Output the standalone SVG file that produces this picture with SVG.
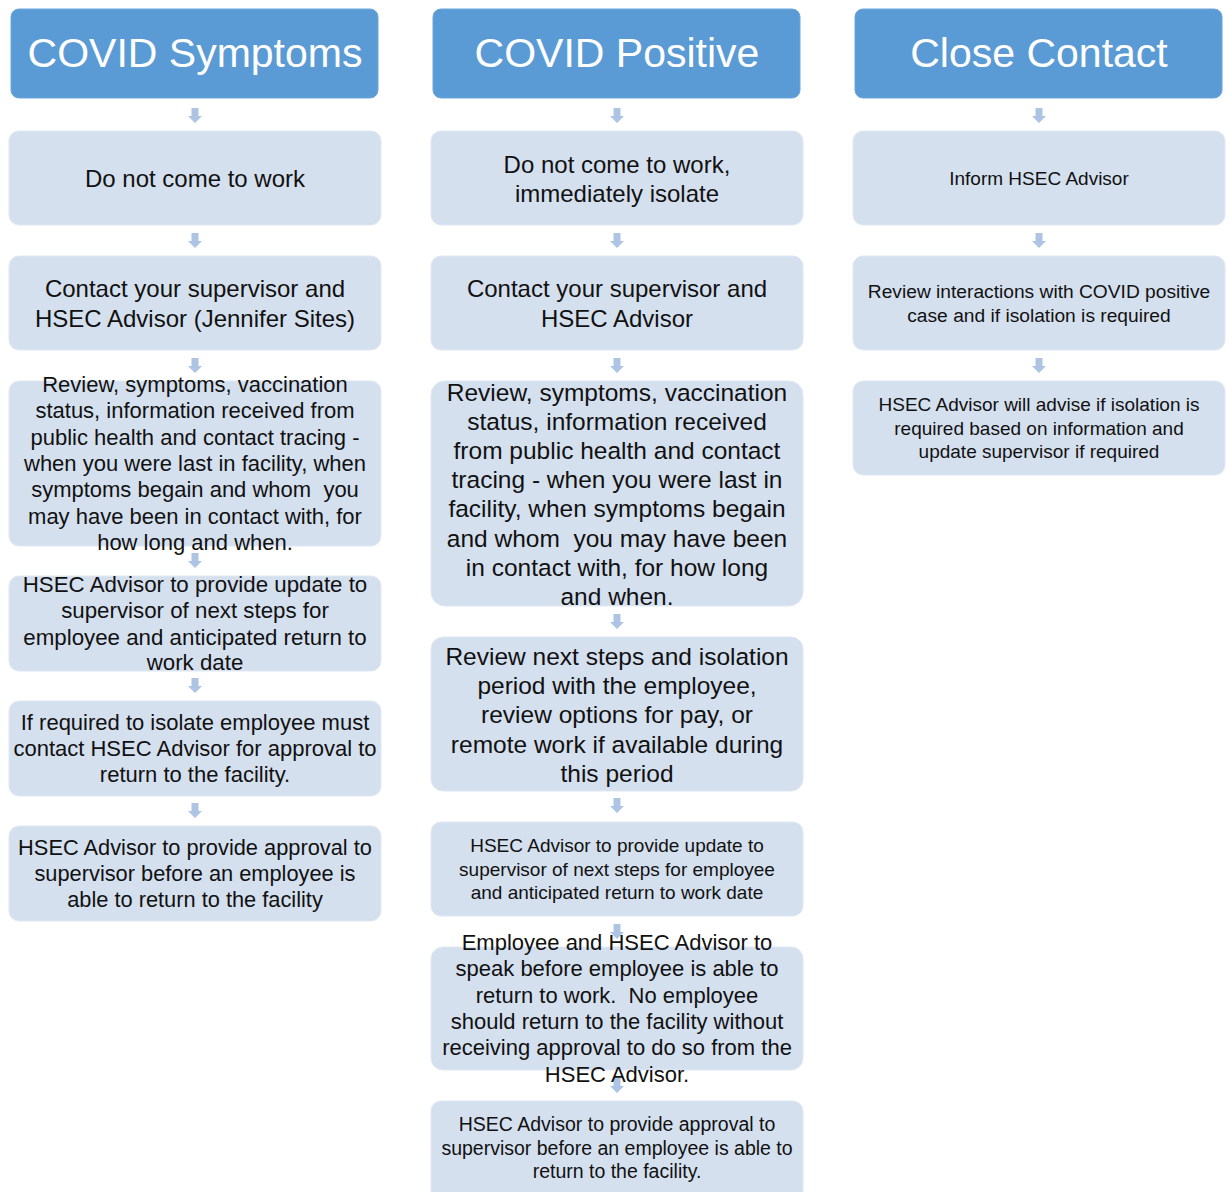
<svg xmlns="http://www.w3.org/2000/svg" width="1230" height="1192" viewBox="0 0 1230 1192">
<defs>
<style>
.hdr{fill:#5b9bd5;stroke:#6aa5dc;stroke-width:1}
.box{fill:#d5e0ef;stroke:#dfe8f4;stroke-width:1}
.ht{fill:#ffffff;font-family:"Liberation Sans",Arial,sans-serif;font-size:41px;text-anchor:middle;dominant-baseline:central}
.t{fill:#111111;font-family:"Liberation Sans",Arial,sans-serif;text-anchor:middle;dominant-baseline:central;white-space:pre}
.arr{fill:#adc4e5}
</style>
<path id="ar" d="M-3.5,0 h7 v8 h3.5 l-7,7 l-7,-7 h3.5 z"/>
</defs>
<rect width="1230" height="1192" fill="#ffffff"/>
<g id="connectors" class="arr">
<use href="#ar" x="195" y="108"/><use href="#ar" x="195" y="233"/><use href="#ar" x="195" y="358"/>
<use href="#ar" x="195" y="553"/><use href="#ar" x="195" y="678"/><use href="#ar" x="195" y="803"/>
<use href="#ar" x="617" y="108"/><use href="#ar" x="617" y="233"/><use href="#ar" x="617" y="358"/>
<use href="#ar" x="617" y="614"/><use href="#ar" x="617" y="798"/><use href="#ar" x="617" y="924"/>
<use href="#ar" x="617" y="1078"/>
<use href="#ar" x="1039" y="108"/><use href="#ar" x="1039" y="233"/><use href="#ar" x="1039" y="358"/>
</g>
<!-- Column 1 -->
<g id="h1"><rect class="hdr" x="11" y="9" width="367" height="89" rx="8"/><text class="ht" x="195" y="53">COVID Symptoms</text></g>
<g id="s1"><rect class="box" x="9" y="131" width="372" height="94" rx="10"/><text class="t" font-size="24" x="195" y="178">Do not come to work</text></g>
<g id="s2"><rect class="box" x="9" y="256" width="372" height="94" rx="10"/><text class="t" font-size="24" x="195"><tspan x="195" y="288">Contact your supervisor and</tspan><tspan x="195" y="318">HSEC Advisor (Jennifer Sites)</tspan></text></g>
<g id="s3"><rect class="box" x="9" y="381" width="372" height="165" rx="10"/><text class="t" font-size="22" x="195"><tspan x="195" y="384">Review, symptoms, vaccination</tspan><tspan x="195" y="410">status, information received from</tspan><tspan x="195" y="437">public health and contact tracing -</tspan><tspan x="195" y="463">when you were last in facility, when</tspan><tspan x="195" y="489">symptoms begain and whom  you</tspan><tspan x="195" y="516">may have been in contact with, for</tspan><tspan x="195" y="542">how long and when.</tspan></text></g>
<g id="s4"><rect class="box" x="9" y="576" width="372" height="95" rx="10"/><text class="t" font-size="22.3" x="195"><tspan x="195" y="584">HSEC Advisor to provide update to</tspan><tspan x="195" y="610">supervisor of next steps for</tspan><tspan x="195" y="637">employee and anticipated return to</tspan><tspan x="195" y="662">work date</tspan></text></g>
<g id="s5"><rect class="box" x="9" y="701" width="372" height="95" rx="10"/><text class="t" font-size="22" x="195"><tspan x="195" y="722">If required to isolate employee must</tspan><tspan x="195" y="748">contact HSEC Advisor for approval to</tspan><tspan x="195" y="774">return to the facility.</tspan></text></g>
<g id="s6"><rect class="box" x="9" y="826" width="372" height="95" rx="10"/><text class="t" font-size="21.8" x="195"><tspan x="195" y="847">HSEC Advisor to provide approval to</tspan><tspan x="195" y="873">supervisor before an employee is</tspan><tspan x="195" y="899">able to return to the facility</tspan></text></g>
<!-- Column 2 -->
<g id="h2"><rect class="hdr" x="433" y="9" width="367" height="89" rx="8"/><text class="ht" x="617" y="53">COVID Positive</text></g>
<g id="p1"><rect class="box" x="431" y="131" width="372" height="94" rx="10"/><text class="t" font-size="24" x="617"><tspan x="617" y="164">Do not come to work,</tspan><tspan x="617" y="193">immediately isolate</tspan></text></g>
<g id="p2"><rect class="box" x="431" y="256" width="372" height="94" rx="10"/><text class="t" font-size="24" x="617"><tspan x="617" y="288">Contact your supervisor and</tspan><tspan x="617" y="318">HSEC Advisor</tspan></text></g>
<g id="p3"><rect class="box" x="431" y="381" width="372" height="225" rx="14"/><text class="t" font-size="24.5" x="617"><tspan x="617" y="392">Review, symptoms, vaccination</tspan><tspan x="617" y="421">status, information received</tspan><tspan x="617" y="450">from public health and contact</tspan><tspan x="617" y="479">tracing - when you were last in</tspan><tspan x="617" y="508">facility, when symptoms begain</tspan><tspan x="617" y="538">and whom  you may have been</tspan><tspan x="617" y="567">in contact with, for how long</tspan><tspan x="617" y="596">and when.</tspan></text></g>
<g id="p4"><rect class="box" x="431" y="637" width="372" height="154" rx="12"/><text class="t" font-size="24.5" x="617"><tspan x="617" y="656">Review next steps and isolation</tspan><tspan x="617" y="685">period with the employee,</tspan><tspan x="617" y="714">review options for pay, or</tspan><tspan x="617" y="744">remote work if available during</tspan><tspan x="617" y="773">this period</tspan></text></g>
<g id="p5"><rect class="box" x="431" y="822" width="372" height="94" rx="10"/><text class="t" font-size="19" x="617"><tspan x="617" y="845">HSEC Advisor to provide update to</tspan><tspan x="617" y="869">supervisor of next steps for employee</tspan><tspan x="617" y="892">and anticipated return to work date</tspan></text></g>
<g id="p6"><rect class="box" x="431" y="947" width="372" height="123" rx="12"/><text class="t" font-size="22" x="617"><tspan x="617" y="942">Employee and HSEC Advisor to</tspan><tspan x="617" y="968">speak before employee is able to</tspan><tspan x="617" y="995">return to work.  No employee</tspan><tspan x="617" y="1021">should return to the facility without</tspan><tspan x="617" y="1047">receiving approval to do so from the</tspan><tspan x="617" y="1074">HSEC Advisor.</tspan></text></g>
<g id="p7"><rect class="box" x="431" y="1101" width="372" height="100" rx="10"/><text class="t" font-size="19.5" x="617"><tspan x="617" y="1124">HSEC Advisor to provide approval to</tspan><tspan x="617" y="1148">supervisor before an employee is able to</tspan><tspan x="617" y="1171">return to the facility.</tspan></text></g>
<!-- Column 3 -->
<g id="h3"><rect class="hdr" x="855" y="9" width="367" height="89" rx="8"/><text class="ht" x="1039" y="53">Close Contact</text></g>
<g id="c1"><rect class="box" x="853" y="131" width="372" height="94" rx="10"/><text class="t" font-size="19" x="1039" y="178">Inform HSEC Advisor</text></g>
<g id="c2"><rect class="box" x="853" y="256" width="372" height="94" rx="10"/><text class="t" font-size="19.2" x="1039"><tspan x="1039" y="291">Review interactions with COVID positive</tspan><tspan x="1039" y="315">case and if isolation is required</tspan></text></g>
<g id="c3"><rect class="box" x="853" y="381" width="372" height="94" rx="10"/><text class="t" font-size="19" x="1039"><tspan x="1039" y="404">HSEC Advisor will advise if isolation is</tspan><tspan x="1039" y="428">required based on information and</tspan><tspan x="1039" y="451">update supervisor if required</tspan></text></g>
</svg>
